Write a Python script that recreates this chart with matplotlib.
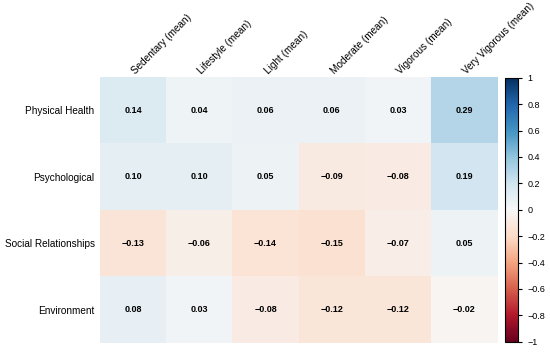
import numpy as np
import matplotlib.pyplot as plt
from matplotlib.transforms import ScaledTranslation

plt.rcParams['font.family'] = ['Liberation Sans', 'DejaVu Sans']

cols = ['Sedentary (mean)', 'Lifestyle (mean)', 'Light (mean)',
        'Moderate (mean)', 'Vigorous (mean)', 'Very Vigorous (mean)']
rows = ['Physical Health', 'Psychological', 'Social Relationships', 'Environment']

physical = [0.14, 0.04, 0.06, 0.06, 0.03, 0.29]
psych = [0.10, 0.10, 0.05, -0.09, -0.08, 0.19]
social = [-0.13, -0.06, -0.14, -0.15, -0.07, 0.05]
environment = [0.08, 0.03, -0.08, -0.12, -0.12, -0.02]

vals = np.array([physical, psych, social, environment])

fig = plt.figure(figsize=(5.5, 3.52), dpi=100)
ax = fig.add_axes([0.182, 0.026, 0.722, 0.755])
cax = fig.add_axes([0.918, 0.029, 0.024, 0.75])

im = ax.imshow(vals, cmap='RdBu', vmin=-1, vmax=1, aspect='auto')

for i in range(vals.shape[0]):
    for j in range(vals.shape[1]):
        ax.text(j, i, f'{vals[i, j]:.2f}'.replace('-', '\u2212'),
                ha='center', va='center', fontsize=6.5, fontweight='bold')

ax.set_xticks(range(len(cols)))
ax.set_xticklabels(cols, rotation=45, ha='left', rotation_mode='anchor', fontsize=7.2)
ax.xaxis.tick_top()
ax.set_yticks(range(len(rows)))
ax.set_yticklabels(rows, fontsize=7.2)
ax.tick_params(axis='y', length=0, pad=4)
ax.tick_params(axis='x', length=0, pad=1)
# nudge column labels right a little
shift = ScaledTranslation(4 / 100, 0, fig.dpi_scale_trans)
for lbl in ax.get_xticklabels():
    lbl.set_transform(lbl.get_transform() + shift)
for s in ax.spines.values():
    s.set_visible(False)

cb = fig.colorbar(im, cax=cax)
cb.set_ticks(np.arange(-1, 1.01, 0.2))
cb.set_ticklabels(['\u22121', '\u22120.8', '\u22120.6', '\u22120.4', '\u22120.2',
                   '0', '0.2', '0.4', '0.6', '0.8', '1'])
cb.ax.tick_params(labelsize=6.5, length=3)
cb.outline.set_linewidth(0.8)

fig.savefig('out.png', dpi=100)
